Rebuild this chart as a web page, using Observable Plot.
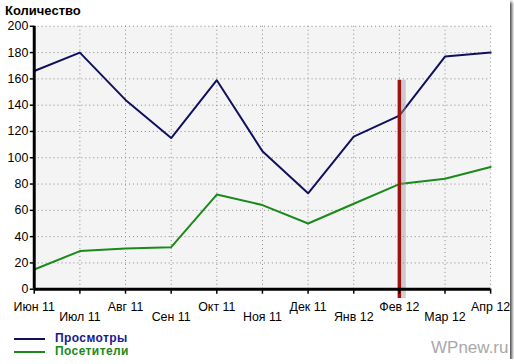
<!DOCTYPE html>
<html><head><meta charset="utf-8">
<script src="https://cdn.jsdelivr.net/npm/d3@7"></script>
<script src="https://cdn.jsdelivr.net/npm/@observablehq/plot@0.6"></script>
<style>
html,body{margin:0;padding:0;background:#fff;}
#frame{position:relative;width:510px;height:359px;background:#fff;box-shadow:2px 2px 3px #444;font-family:"Liberation Sans",Arial,sans-serif;overflow:hidden;}
#title{position:absolute;left:5px;top:3px;font-weight:bold;font-size:13px;color:#000;}
#chart{position:absolute;left:0;top:0;}
#legend{position:absolute;left:14px;top:332px;font-weight:bold;font-size:12px;line-height:13px;letter-spacing:0.4px;}
#legend .row{display:flex;align-items:center;}
#legend .sw{width:31px;height:2px;margin-right:10px;}
#wm{position:absolute;left:431px;top:338px;font-size:17px;color:#a8a8a8;}
</style></head>
<body>
<div id="frame">
<div id="chart"></div>
<div id="title">Количество</div>
<div id="legend"></div>
<div id="wm">WPnew.ru</div>
</div>
<script>
const months = ["Июн 11","Июл 11","Авг 11","Сен 11","Окт 11","Ноя 11","Дек 11","Янв 12","Фев 12","Мар 12","Апр 12"];
const views = [166,180,144,115,159,105,73,116,132,177,180];
const visitors = [15,29,31,32,72,64,50,65,80,84,93];
const seriesNames = ["Просмотры","Посетители"];
const seriesColors = ["#10105e","#1a8a1a"];
const yTicks = [0,20,40,60,80,100,120,140,160,180,200];
const markerMonth = ["Фев 12"];
const markerTop = 159;
const markerBottom = -7;

const rows = [];
months.forEach((m,i)=>{rows.push({m, v:views[i], s:seriesNames[0]}); rows.push({m, v:visitors[i], s:seriesNames[1]});});
const evenMonths = months.filter((d,i)=>i%2===0);
const oddMonths = months.filter((d,i)=>i%2===1);

const plot = Plot.plot({
  width: 514, height: 326,
  marginLeft: 34, marginRight: 20, marginTop: 26, marginBottom: 35,
  style: {fontFamily: '"Liberation Sans", Arial, sans-serif', fontSize: "12px", color: "#000", background: "transparent", overflow: "visible"},
  x: {type: "point", domain: months, padding: 0},
  y: {domain: [0,200], clamp: false},
  color: {domain: seriesNames, range: seriesColors},
  marks: [
    Plot.frame({fill: "#f4f4f4", stroke: null}),
    Plot.gridY(yTicks.filter(d=>d>0), {stroke: "#888", strokeOpacity: 1, strokeDasharray: "1,3", strokeWidth: 1}),
    Plot.gridX(months.slice(1), {stroke: "#888", strokeOpacity: 1, strokeDasharray: "1,3", strokeWidth: 1}),
    Plot.line(rows, {x: "m", y: "v", stroke: "s", strokeWidth: 2}),
    Plot.ruleX(markerMonth, {x: d=>d, y1: markerTop, y2: markerBottom, stroke: "#999", strokeOpacity: 0.45, strokeWidth: 5, dx: 4}),
    Plot.ruleX(markerMonth, {x: d=>d, y1: markerTop, y2: markerBottom, stroke: "#9e1212", strokeWidth: 3.5}),
    Plot.ruleY([0], {stroke: "#000", strokeWidth: 3}),
    Plot.ruleX([months[0]], {stroke: "#000", strokeWidth: 3, y1: 0, y2: 200}),
    Plot.axisY(yTicks, {tickSize: 4, tickPadding: 2, label: null, fontSize: 12.5, stroke: "#000", strokeWidth: 1.5}),
    Plot.axisX(evenMonths, {tickSize: 5, tickPadding: 8, label: null, fontSize: 12.5, strokeWidth: 1.5}),
    Plot.axisX(oddMonths, {tickSize: 5, tickPadding: 18, label: null, fontSize: 12.5, strokeWidth: 1.5})
  ]
});
document.getElementById("chart").appendChild(plot);

const leg = document.getElementById("legend");
seriesNames.forEach((n,i)=>{
  const r = document.createElement("div"); r.className="row";
  const sw = document.createElement("div"); sw.className="sw"; sw.style.background = seriesColors[i];
  const t = document.createElement("span"); t.textContent = n; t.style.color = i===0 ? "#1a1a8a" : seriesColors[i];
  r.appendChild(sw); r.appendChild(t); leg.appendChild(r);
});
</script>
</body></html>
